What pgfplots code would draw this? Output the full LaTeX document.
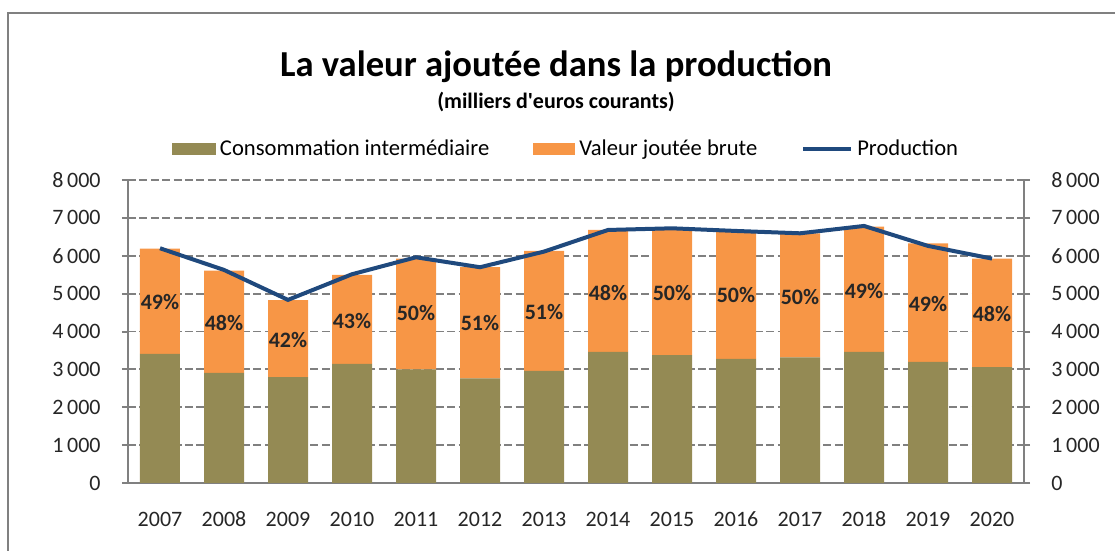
\documentclass[border=0pt]{standalone}
\usepackage{pgfplots}
\pgfplotsset{compat=1.18}
\usepackage{pgfplotstable}
\usepackage{fontspec}
\setmainfont{Carlito}
\definecolor{ci}{RGB}{148,138,84}
\definecolor{va}{RGB}{247,150,70}
\definecolor{prod}{RGB}{31,73,125}
\definecolor{gridgray}{RGB}{128,128,128}
\definecolor{labtext}{RGB}{38,38,38}

\pgfplotstableread{
x  ci    va    prod  lab   pct
0  3411  2778  6198  4791  49
1  2910  2699  5626  4220  48
2  2796  2030  4835  3780  42
3  3147  2348  5512  4290  43
4  2998  2927  5960  4483  50
5  2760  2937  5697  4220  51
6  2963  3164  6110  4527  51
7  3464  3217  6681  5029  48
8  3376  3324  6725  5029  50
9  3279  3358  6655  4958  50
10 3314  3279  6593  4923  50
11 3464  3305  6787  5081  49
12 3200  3130  6260  4730  49
13 3059  2866  5925  4466  48
}\datatable

\pgfplotsset{
  common/.style={
    at={(64pt,34pt)}, anchor=south west, scale only axis,
    width=448pt, height=151.5pt,
    xmin=-0.5, xmax=13.5, ymin=0, ymax=8000,
    ytick={0,1000,...,8000},
    /pgf/number format/assume math mode=true,
    /pgf/number format/1000 sep={\,},
    ticklabel style={font=\fontsize{11}{13}\selectfont, text=labtext},
    axis line style={gridgray, line width=1pt},
    major tick length=3pt, tick align=outside,
    tick style={gridgray, line width=1pt},
  }
}

\begin{document}
\begin{tikzpicture}
\useasboundingbox (0,0) rectangle (557.5pt,275.5pt);
\draw[gridgray, line width=1pt] (4pt,-1pt) -- (4pt,269pt) -- (558pt,269pt);

\node[anchor=base, font=\bfseries\fontsize{18.3}{21}\selectfont] at (278pt,237pt) {La valeur ajoutée dans la production};
\node[anchor=base, font=\bfseries\fontsize{11}{13}\selectfont] at (278pt,221pt) {(milliers d\textquotesingle euros courants)};

\begin{axis}[common,
  ybar stacked, bar width=20pt,
  axis x line*=bottom, axis y line*=left,
  xtick={0,...,13},
  xticklabels={2007,2008,2009,2010,2011,2012,2013,2014,2015,2016,2017,2018,2019,2020},
  major x tick style={draw=none},
  extra x ticks={-0.5,0.5,...,13.5},
  extra x tick labels={},
  extra x tick style={grid=none, major tick length=4pt, tick style={draw=gridgray, line width=1pt}},
  xticklabel style={anchor=center, inner sep=0pt, yshift=-15.25pt},
  yticklabel style={anchor=east, inner sep=0pt, xshift=-10.5pt},
  ymajorgrids, grid style={dash pattern=on 4pt off 1.7pt, gridgray, line width=0.9pt},
  legend style={at={(0.49,1.102)}, anchor=center, draw=none, fill=none,
    legend columns=3, font=\fontsize{11.3}{13}\selectfont,
    /tikz/every even column/.append style={column sep=20pt},
    /tikz/column 4/.append style={column sep=17.5pt}},
  legend cell align=left,
]
\addplot[fill=ci, draw=none, legend image code/.code={\fill[ci] (0pt,-3pt) rectangle (22pt,3pt);}] table[x=x, y=ci] {\datatable};
\addlegendentry{Consommation intermédiaire}
\addplot[fill=va, draw=none, legend image code/.code={\fill[va] (0pt,-3pt) rectangle (21pt,3pt);}] table[x=x, y=va] {\datatable};
\addlegendentry{Valeur joutée brute}
\addlegendimage{prod, line width=2pt, legend image code/.code={\draw[prod, line width=2pt] (0pt,0pt) -- (24pt,0pt);}}
\addlegendentry{Production}
\end{axis}

\begin{axis}[common,
  axis x line=none, axis y line*=right,
  yticklabel style={anchor=west, inner sep=0pt, xshift=10.5pt},
]
\addplot[prod, line width=2pt, mark=none] table[x=x, y=prod] {\datatable};
\addplot[draw=none, mark=none, point meta=explicit symbolic,
  nodes near coords={\pgfplotspointmeta\%},
  nodes near coords style={anchor=center, inner sep=0pt, text=labtext, font=\bfseries\fontsize{11}{13}\selectfont}]
  table[x=x, y=lab, meta=pct] {\datatable};
\end{axis}
\end{tikzpicture}
\end{document}
